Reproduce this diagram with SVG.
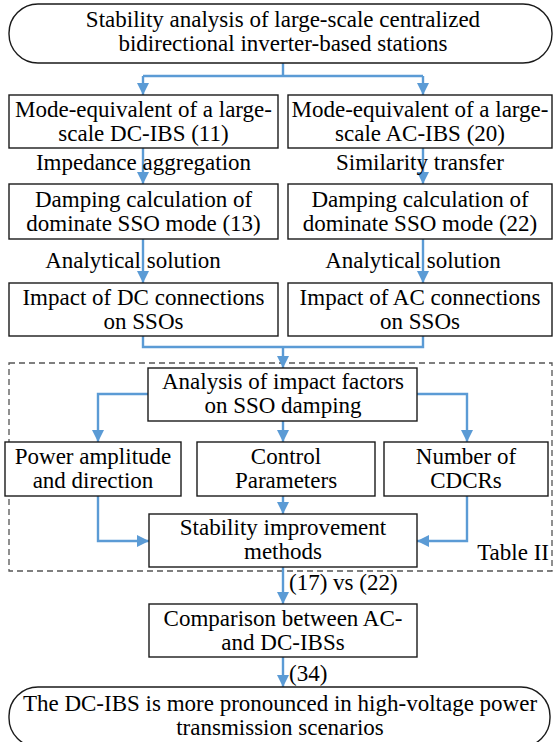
<svg xmlns="http://www.w3.org/2000/svg" width="553" height="742" viewBox="0 0 553 742">
<defs>
<marker id="ah" viewBox="0 0 12 12" refX="12" refY="6" markerWidth="12" markerHeight="12" markerUnits="userSpaceOnUse" orient="auto">
<path d="M0,0 L12,6 L0,12 z" fill="#5b9bd5"/>
</marker>
<style>
.box{fill:#fff;stroke:#1a1a1a;stroke-width:1.4}
.t{font-family:"Liberation Serif","Times New Roman",serif;font-size:23px;fill:#000;text-anchor:middle}
.l{font-family:"Liberation Serif","Times New Roman",serif;font-size:23px;fill:#000}
.c{fill:none;stroke:#5b9bd5;stroke-width:2.4}
.a{fill:none;stroke:#5b9bd5;stroke-width:2.4;marker-end:url(#ah)}
</style>
</defs>
<rect width="553" height="742" fill="#fff"/>
<rect x="9" y="363" width="543" height="208" fill="none" stroke="#555" stroke-width="1.3" stroke-dasharray="6,4"/>
<g id="connectors">
<path class="c" d="M283,63 V76 H143 M283,76 H423"/>
<path class="a" d="M143,76 V95"/>
<path class="a" d="M423,76 V95"/>
<path class="a" d="M143,148 V184"/>
<path class="a" d="M423,148 V184"/>
<path class="a" d="M143,239 V283"/>
<path class="a" d="M423,239 V283"/>
<path class="c" d="M143,336 V347 H423 V336"/>
<path class="a" d="M283,347 V368"/>
<path class="a" d="M148,394 H98 V442"/>
<path class="a" d="M283,421 V442"/>
<path class="a" d="M417,394 H467 V442"/>
<path class="a" d="M98,496 V541 H149"/>
<path class="a" d="M283,496 V514"/>
<path class="a" d="M467,496 V541 H417"/>
<path class="a" d="M283,567 V604"/>
<path class="a" d="M283,657 V687"/>
</g>
<g id="start">
<rect class="box" x="9" y="4" width="543" height="59" rx="29" ry="29"/>
<text class="t" x="283" y="27">Stability analysis of large-scale centralized</text>
<text class="t" x="283" y="51">bidirectional inverter-based stations</text>
</g>
<g id="dc-mode">
<rect class="box" x="9" y="95" width="269" height="53"/>
<text class="t" x="143.5" y="117">Mode-equivalent of a large-</text>
<text class="t" x="143.5" y="141">scale DC-IBS (11)</text>
</g>
<g id="ac-mode">
<rect class="box" x="288" y="95" width="264" height="53"/>
<text class="t" x="420" y="117">Mode-equivalent of a large-</text>
<text class="t" x="420" y="141">scale AC-IBS (20)</text>
</g>
<text class="t" x="143.5" y="170">Impedance aggregation</text>
<text class="t" x="420" y="170">Similarity transfer</text>
<g id="dc-damping">
<rect class="box" x="9" y="184" width="269" height="55"/>
<text class="t" x="143.5" y="207">Damping calculation of</text>
<text class="t" x="143.5" y="231">dominate SSO mode (13)</text>
</g>
<g id="ac-damping">
<rect class="box" x="288" y="184" width="264" height="55"/>
<text class="t" x="420" y="207">Damping calculation of</text>
<text class="t" x="420" y="231">dominate SSO mode (22)</text>
</g>
<text class="t" x="133" y="268">Analytical solution</text>
<text class="t" x="413" y="268">Analytical solution</text>
<g id="dc-impact">
<rect class="box" x="9" y="283" width="269" height="53"/>
<text class="t" x="143.5" y="305">Impact of DC connections</text>
<text class="t" x="143.5" y="329">on SSOs</text>
</g>
<g id="ac-impact">
<rect class="box" x="288" y="283" width="264" height="53"/>
<text class="t" x="420" y="305">Impact of AC connections</text>
<text class="t" x="420" y="329">on SSOs</text>
</g>
<g id="analysis">
<rect class="box" x="148" y="368" width="269" height="53"/>
<text class="t" x="283" y="389">Analysis of impact factors</text>
<text class="t" x="283" y="413">on SSO damping</text>
</g>
<g id="power">
<rect class="box" x="5" y="442" width="176" height="54"/>
<text class="t" x="93" y="464">Power amplitude</text>
<text class="t" x="93" y="488">and direction</text>
</g>
<g id="control">
<rect class="box" x="197" y="442" width="178" height="54"/>
<text class="t" x="286" y="464">Control</text>
<text class="t" x="286" y="488">Parameters</text>
</g>
<g id="number">
<rect class="box" x="384" y="442" width="164" height="54"/>
<text class="t" x="466" y="464">Number of</text>
<text class="t" x="466" y="488">CDCRs</text>
</g>
<g id="stability">
<rect class="box" x="149" y="514" width="268" height="53"/>
<text class="t" x="283" y="535">Stability improvement</text>
<text class="t" x="283" y="559">methods</text>
</g>
<text class="l" x="549" y="560" text-anchor="end">Table II</text>
<text class="l" x="289" y="590">(17) vs (22)</text>
<g id="comparison">
<rect class="box" x="149" y="604" width="268" height="53"/>
<text class="t" x="283" y="626">Comparison between AC-</text>
<text class="t" x="283" y="650">and DC-IBSs</text>
</g>
<text class="l" x="289" y="681">(34)</text>
<g id="end">
<rect class="box" x="9" y="687" width="541" height="60" rx="29" ry="29"/>
<text class="t" x="280" y="711">The DC-IBS is more pronounced in high-voltage power</text>
<text class="t" x="280" y="735">transmission scenarios</text>
</g>
</svg>
